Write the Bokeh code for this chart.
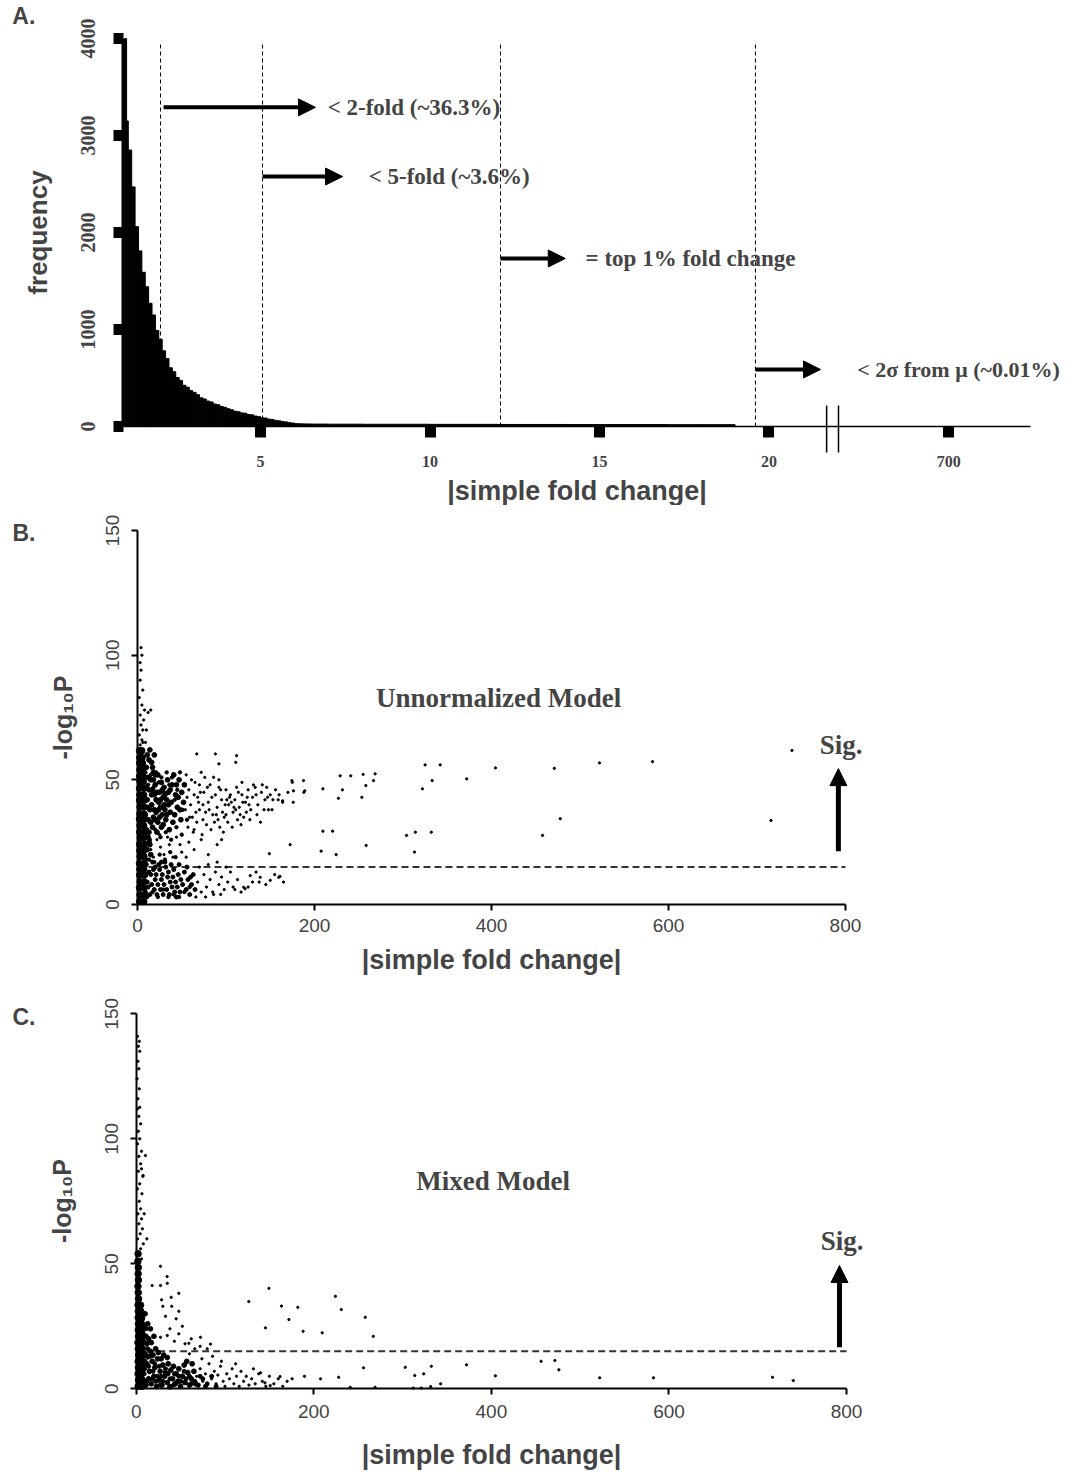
from bokeh.plotting import figure
from bokeh.models import Range1d, FixedTicker, Label, Arrow, NormalHead
from bokeh.layouts import column
from bokeh.embed import file_html
from bokeh.resources import INLINE

# ---------------- Panel A data ----------------
hist_edges = [1.00, 1.05, 1.10, 1.20, 1.30, 1.40, 1.50, 1.60, 1.70, 1.80, 1.90,
              2.00, 2.10, 2.20, 2.30, 2.40, 2.50, 2.60, 2.70, 2.80, 2.90,
              3.00, 3.10, 3.20, 3.30, 3.40, 3.50, 3.60, 3.70, 3.80, 3.90,
              4.00, 4.10, 4.20, 4.30, 4.40, 4.50, 4.60, 4.70, 4.80, 4.90,
              5.00, 5.10, 5.20, 5.30, 5.40, 5.50, 5.60, 5.70, 5.80, 5.90,
              6.00, 6.10, 6.20, 6.30, 6.40, 6.50, 6.60, 6.70, 6.80, 6.90,
              7.00, 8.0, 9.0, 10.0, 11.0, 12.0, 13.0, 14.0, 15.0, 16.0, 17.0,
              18.0, 19.0, 19.6]
hist_counts = [4000, 3150,
               2850, 2470, 2060, 1810, 1590, 1440, 1270, 1150, 990,
               900, 780, 700, 605, 565, 505, 475, 425, 405, 370,
               352, 328, 296, 284, 262, 253, 232, 224, 207, 198,
               183, 172, 158, 152, 140, 137, 123, 120, 108, 102,
               90, 87, 76, 73, 63, 59, 50, 47, 39, 36,
               29, 28, 27, 26, 26, 25, 25, 25, 25,
               25, 24, 23, 23, 22, 22, 21, 21, 20, 20, 20, 19, 19]
a_x_ticks = [5, 10, 15, 20]
a_break_pos = 25.3
a_break_label = "700"
a_y_ticks = [0, 1000, 2000, 3000, 4000]
a_cutoffs = [2.05, 5.06, 12.08, 19.6]
a_arrow_x0 = [2.14, 5.06, 12.08, 19.6]
a_arrow_x1 = [6.62, 7.42, 13.99, 21.52]
a_arrow_y = [3290, 2577, 1732, 588]
a_texts = ["< 2-fold (~36.3%)", "< 5-fold (~3.6%)", "= top 1% fold change",
           "< 2\u03c3 from \u03bc (~0.01%)"]
a_text_x = [6.98, 8.19, 14.59, 22.6]
a_text_size = ["23px", "23px", "23px", "22px"]

# ---------------- Panel B data ----------------
B_col_x = [2.4, 7.1, 2.8, 7.5, 2.2, 6.9, 3.0, 7.3, 2.5, 7.8, 2.7, 7.0, 2.3, 7.4,
           2.9, 7.2, 2.6, 6.8, 2.4, 7.6, 3.1, 7.0, 2.5, 7.3, 2.8, 6.9, 2.2, 7.5,
           2.7, 7.1, 2.9, 6.8, 2.4, 7.4, 2.6, 7.0, 2.3, 7.2, 2.8, 6.6, 2.5, 6.2,
           2.7, 5.8, 2.4, 5.5, 2.6, 5.2, 2.3, 4.8]
B_col_y = [1.2, 1.2, 3.9, 3.9, 6.7, 6.7, 9.1, 9.1, 11.8, 11.8, 14.2, 14.2, 16.4, 16.4,
           19.3, 19.3, 21.6, 21.6, 24.1, 24.1, 26.8, 26.8, 29.0, 29.0, 31.7, 31.7,
           34.3, 34.3, 36.4, 36.4, 39.2, 39.2, 41.8, 41.8, 43.9, 43.9, 46.6, 46.6,
           49.3, 49.3, 51.5, 51.5, 54.1, 54.1, 56.8, 56.8, 58.9, 58.9, 61.7, 61.7]
B_core_x = [10, 12, 14, 11, 13, 15, 17, 18, 16, 19, 20, 22, 23, 21, 24, 25, 23, 27,
            28, 26, 29, 30, 32, 31, 33, 34, 36, 35, 37, 38, 40, 39, 42, 43, 41, 45,
            10, 12, 15, 17, 19, 21, 25, 27, 29, 31, 33, 35, 37, 9, 11, 13, 16, 18,
            20, 22, 24, 26, 28, 30, 44, 46, 48, 47, 50, 52, 49, 53,
            9, 11, 13, 15, 12, 14, 10, 16, 18, 11, 13, 17, 20, 14, 19]
B_core_y = [30, 34, 38, 42, 46, 50, 31, 35, 40, 44, 48, 29, 33, 37, 41, 45, 52, 31,
            36, 39, 43, 47, 34, 38, 42, 50, 30, 45, 37, 41, 33, 48, 36, 44, 52, 39,
            47, 51, 33, 46, 38, 42, 35, 49, 32, 44, 36, 40, 46, 36, 39, 29, 44, 50,
            34, 45, 38, 42, 46, 40, 48, 43, 38, 50, 45, 41, 34, 48,
            18, 22, 25, 20, 27, 24, 55, 57, 53, 60, 58, 55, 52, 62, 60]
B_low_x = [9, 11, 13, 10, 14, 16, 15, 17, 19, 20, 18, 22, 23, 21, 24, 26, 27, 25, 29,
           30, 28, 31, 33, 34, 32, 36, 37, 35, 39, 40, 38, 42, 43, 41, 45, 46, 48,
           49, 47, 51, 53, 55, 57, 59, 61, 63, 65, 12, 20, 27, 44, 56, 60]
B_low_y = [5, 9, 13, 16, 4, 8, 12, 17, 6, 10, 14, 4, 8, 12, 16, 6, 10, 14, 4, 8, 12,
           17, 6, 11, 15, 4, 9, 13, 7, 11, 16, 5, 9, 14, 7, 12, 5, 10, 16, 8, 13, 6,
           10, 4, 8, 12, 6, 7, 15, 17, 3, 15, 11]
B_fill_x = [6, 9, 12, 15, 18, 21, 24, 27, 30, 33, 36, 39, 42, 45, 48, 51,
            8, 14, 20, 26, 32, 38, 44, 50, 56,
            11, 17, 23, 29, 35, 41, 47, 53, 59,
            7, 13, 19, 25, 31, 37, 43]
B_fill_y = [50, 53, 48, 52, 47, 53, 49, 51, 45, 53, 48, 51, 42, 46, 53, 38,
            28, 26, 30, 27, 29, 26, 31, 28, 34,
            3, 5, 3, 6, 3, 4, 3, 5, 7,
            20, 18, 17, 20, 18, 21, 19]
B_lob_x = [55, 58, 60, 62, 65, 68, 70, 72, 75, 78, 80, 82, 85, 88, 90, 92, 95, 98,
           100, 103, 105, 108, 110, 112, 115, 118, 120, 122, 125, 128, 130, 133,
           136, 140, 143, 146, 150, 153, 156, 160, 57, 63, 67, 73, 77, 83, 87, 93,
           97, 102, 107, 113, 117, 123, 127, 135, 139, 148, 100, 92, 70, 64, 86,
           74, 118, 131, 141, 147, 152, 159, 164, 170, 175, 176, 188, 189,
           56, 61, 66, 71, 76, 81, 59, 69, 79, 84, 89, 94, 99, 104, 109, 114,
           119, 124, 54, 64, 74, 96, 106, 116, 126, 134, 144, 101, 111, 91]
B_lob_y = [52, 46, 40, 35, 49, 43, 38, 53, 45, 32, 41, 48, 36, 44, 39, 50, 42, 35,
           46, 40, 44, 37, 42, 47, 39, 44, 35, 41, 46, 38, 43, 47, 40, 45, 38, 47,
           44, 42, 46, 44, 31, 29, 33, 28, 37, 30, 33, 31, 29, 33, 31, 34, 32, 37,
           34, 36, 33, 38, 36, 47, 48, 44, 51, 40, 49, 48, 48, 43, 38, 42, 41, 45,
           49, 41, 45, 45.6,
           43, 50, 37, 45, 51, 38, 35, 41, 47, 43, 36, 46, 40, 43, 39, 45,
           41, 43, 38, 30, 34, 37, 41, 36, 40, 44, 42, 42, 38, 34]
B_gap_x = [15, 22, 30, 36, 44, 50, 58, 18, 26, 40, 64, 72, 80, 90, 48, 34, 12, 55, 95, 25]
B_gap_y = [22, 26, 20, 24, 27, 21, 25, 19, 23, 19, 22, 26, 20, 24, 24, 27, 25, 19, 26, 28]
B_pts_x = [68, 72, 75, 78, 82, 85, 88, 92, 95, 98, 102, 105, 108, 113, 117, 70, 80,
           90, 100, 66, 77, 86, 94, 130, 134, 145, 125, 155, 165,
           67, 88, 112, 111, 92, 174.4, 187.6, 176.3, 164, 209.5, 229, 241, 255,
           268.5, 266.7, 258, 253.5, 227, 231.6, 325, 342, 333, 322, 372, 404.5,
           471, 522, 582, 739.5, 715.8, 477.7, 457.7, 304, 314, 332, 313, 209.5,
           220.5, 258.4, 172.5, 207.5, 224.5, 149, 161, 150, 137.5, 121.5, 110,
           159.6, 138.7, 127.4, 120,
           3, 5, 2, 6, 4, 7, 3, 8, 5, 2, 6, 3, 4, 3, 5, 4, 12, 15, 10, 9, 6]
B_pts_y = [9, 5, 12, 7, 10, 5, 13, 8, 11, 6, 9, 13, 7, 10, 5, 15, 16, 17, 15, 3, 3,
           4, 4, 9, 13, 8, 7, 12, 9,
           60.4, 60.4, 59.7, 57, 56.4, 49.7, 49.7, 45.6, 41.6, 46.4, 51.6, 51.6,
           52.2, 52.4, 49.7, 47.7, 43, 42.6, 46, 56, 56, 49.7, 46.4, 50.4, 54.8,
           54.6, 56.8, 57.3, 61.8, 33.7, 34.4, 27.7, 27.7, 29, 29, 21, 29.4, 29.4,
           23.7, 24, 21.4, 20, 20.4, 11.3, 9.7, 9, 6.3, 6, 10.9, 10.9, 11.6, 6.9,
           64, 66, 68, 70, 72, 74, 76, 78, 80, 83, 86, 90, 94, 97, 100, 103, 77,
           78, 70, 65, 65]

# ---------------- Panel C data ----------------
C_col_x = [2.3, 6.5, 2.6, 6.8, 2.1, 6.3, 2.5, 6.9, 2.2, 6.4, 2.7, 6.6, 2.4, 7.0,
           2.0, 6.2, 2.6, 6.7, 2.3, 6.1, 2.5, 5.9, 2.2, 5.6, 2.4, 5.2, 2.1, 4.9,
           2.6, 2.3, 2.0, 2.5, 2.2, 2.4, 1.9, 2.1]
C_col_y = [1, 1, 3.5, 3.5, 6, 6, 8.5, 8.5, 11, 11, 13.5, 13.5, 16, 16, 18.5, 18.5,
           21, 21, 23.5, 23.5, 26, 26, 28.5, 28.5, 31, 31, 33.5, 33.5, 36, 38.5, 41,
           43.5, 46, 48.5, 51, 54]
C_core_x = [5, 8, 11, 14, 17, 20, 23, 26, 29, 32, 35, 38, 41, 44,
            6, 9, 12, 15, 18, 21, 24, 27, 30, 33, 36, 39, 42, 45,
            7, 10, 13, 16, 19, 22, 25, 28, 31, 35,
            5, 8, 11, 6, 9, 12, 14, 7, 10, 17, 20, 13, 16,
            47, 50, 52, 55, 58, 48, 54, 60, 62, 65, 57, 63, 67]
C_core_y = [1, 3, 1.5, 4, 2, 5, 1, 3.5, 1.5, 5, 2.5, 0.8, 4, 2,
            6, 8, 10, 7, 11, 8.5, 12, 7, 9.5, 6.5, 10, 7.5, 9, 6,
            12.5, 14, 12.8, 15, 13.5, 16, 14.5, 12, 13.5, 12.5,
            17, 19, 21, 23, 25, 18, 20, 28, 30, 18.5, 21, 26, 24,
            3, 1, 5, 2.5, 6.5, 8, 9.5, 1.5, 4, 7, 11, 10, 2]
C_fill_x = [3, 9, 14, 19, 24, 4, 10, 16, 22, 28, 33, 5, 12, 18, 26, 38, 43, 50, 56,
            62, 70, 75, 80, 85, 90, 8, 15, 21, 27, 13, 7, 11, 3, 30, 36, 42, 48, 54,
            60, 66, 72, 78]
C_fill_y = [8, 6, 9, 7, 5, 13, 11, 13, 3, 5, 8, 16, 3, 4, 9, 4, 6, 3, 4, 2, 1.5, 4,
            2, 5, 1, 22, 7, 10, 1.5, 16, 11, 24, 19, 3, 6, 1.5, 5, 7, 5, 3, 5, 1]
C_pts_x = [68, 70, 72, 75, 78, 80, 82, 85, 88, 90, 92, 95, 98, 100, 102, 105, 108,
           110, 113, 116, 118, 121, 124, 127, 130, 134, 138, 142, 146, 150, 155,
           160, 165, 170, 74, 86, 96, 112, 132, 60, 66, 72, 80, 55, 62, 48, 52, 45,
           40, 43, 38, 33, 30,
           27.4, 34.9, 35, 27.4, 18, 48, 39.4, 126.8, 149.4, 163.6, 182, 172, 224.4,
           231, 258, 145.6, 188, 209.5, 267, 48, 28.6, 35, 27.4, 59.3, 72.4, 83.7,
           256, 303, 313.7, 323.8, 332.4, 312, 321, 331.6, 342.8, 372, 404.5, 456,
           471.5, 476, 522, 582.5, 716.6, 740, 241, 269, 228, 207.6, 189.5, 175.6,
           151, 162, 140, 145,
           3, 6, 2, 5, 8, 1.5, 4.5, 7, 3, 6, 2, 5, 3.5, 6.5, 1.5, 4, 7.5, 2.5, 5, 3,
           6, 1.5, 4, 10.4, 2.5, 5, 3, 1.5, 4, 2, 3.5, 1, 3, 2, 4, 2.5, 3.5, 1.5, 12,
           9, 6, 7.8]
C_pts_y = [5, 1, 8, 3, 6, 1.5, 10, 4, 7, 2, 5.5, 9, 3, 1, 6, 4, 8, 2, 5, 1, 7, 3, 5,
           1.5, 4, 2, 6, 3, 1, 5, 2, 4, 1, 3, 12, 13, 11, 10, 8, 14, 16, 17, 16, 18,
           20, 22, 25, 28, 33, 19, 24, 29, 33,
           49, 44.9, 42.2, 41.3, 41.3, 38.2, 36.6, 34.9, 40.2, 33.1, 32.6, 27.7, 37,
           31.7, 28.6, 24.4, 23, 22.4, 21, 31, 35.6, 21.3, 20.6, 18.2, 20.6, 17.9,
           8.4, 8.6, 5.3, 6.0, 9.0, 0.3, 0.3, 0.9, 2, 9.6, 5.2, 11, 11.3, 7.6, 4.4,
           4.4, 4.6, 3.3, 0.6, 0.6, 4.6, 4.0, 5.0, 4.0, 1.3, 4.9, 6.4, 2.4,
           50, 52, 54, 56, 58, 60, 62, 64, 66, 68, 70, 72, 75, 78, 80, 82, 85, 87,
           90, 93, 95, 98, 100, 93.3, 103, 106, 109, 112, 112.6, 116, 120, 124, 128,
           131, 135, 137, 139, 141, 60, 70, 88, 85.3]

sig_threshold = 15
b_x_ticks = [0, 200, 400, 600, 800]
b_y_ticks = [0, 50, 100, 150]

SERIF = "Liberation Serif"
SANS = "Liberation Sans"
W = 1064


def base_fig(height, xr, yr):
    p = figure(width=W, height=height, x_range=Range1d(*xr), y_range=Range1d(*yr),
               output_backend="svg", toolbar_location=None,
               min_border_left=0, min_border_right=0, min_border_top=0,
               min_border_bottom=0)
    p.xgrid.visible = False
    p.ygrid.visible = False
    p.outline_line_color = None
    p.background_fill_color = "white"
    p.border_fill_color = "white"
    return p


# ======================= Panel A =======================
pA = base_fig(505, (-2.670, 28.717), (-814.4, 4391.8))
pA.quad(left=hist_edges[:-1], right=hist_edges[1:], bottom=0, top=hist_counts,
        fill_color="black", line_color="black", line_width=1)
pA.segment(x0=a_cutoffs, y0=0, x1=a_cutoffs, y1=3970, line_color="black",
           line_width=1, line_dash="4 3")

xa = pA.xaxis[0]
xa.fixed_location = 0
xa.ticker = FixedTicker(ticks=a_x_ticks + [a_break_pos])
xa.major_label_overrides = {a_break_pos: a_break_label}
xa.bounds = (0.95, 27.7)
xa.axis_line_width = 1.5
xa.major_tick_out = 11
xa.major_tick_in = 0
xa.major_tick_line_width = 11
xa.minor_tick_line_color = None
xa.major_label_text_font = SERIF
xa.major_label_text_font_style = "bold"
xa.major_label_text_font_size = "16px"
xa.major_label_standoff = 18
xa.axis_label = "|simple fold change|"
xa.axis_label_text_font = SANS
xa.axis_label_text_font_style = "bold"
xa.axis_label_text_font_size = "27px"
xa.axis_label_standoff = 6

ya = pA.yaxis[0]
ya.fixed_location = 0.95
ya.ticker = FixedTicker(ticks=a_y_ticks)
ya.bounds = (0, 4000)
ya.axis_line_width = 4
ya.major_tick_out = 10
ya.major_tick_in = 0
ya.major_tick_line_width = 11
ya.minor_tick_line_color = None
ya.major_label_orientation = "vertical"
ya.major_label_text_font = SERIF
ya.major_label_text_font_style = "bold"
ya.major_label_text_font_size = "20px"
ya.major_label_standoff = 18
ya.axis_label = "frequency"
ya.axis_label_text_font = SANS
ya.axis_label_text_font_style = "bold"
ya.axis_label_text_font_size = "26px"
ya.axis_label_standoff = 26

for x0, x1, yv in zip(a_arrow_x0, a_arrow_x1, a_arrow_y):
    pA.add_layout(Arrow(end=NormalHead(size=17, fill_color="black", line_color="black"),
                        x_start=x0, y_start=yv, x_end=x1, y_end=yv,
                        line_width=4, line_color="black"))
for tx, ty, tt, ts in zip(a_text_x, a_arrow_y, a_texts, a_text_size):
    pA.add_layout(Label(x=tx, y=ty, text=tt, text_font=SERIF, text_font_style="bold",
                        text_font_size=ts, text_baseline="middle", text_align="left"))
# axis break marks
for bx in [21.7, 22.05]:
    pA.add_layout(Arrow(start=None, end=None, x_start=bx, y_start=216, x_end=bx,
                        y_end=-268, line_width=1.5, line_color="black"))
pA.add_layout(Label(x=-2.32, y=4371, text="A.", text_font=SANS, text_font_style="bold",
                    text_font_size="23px", text_baseline="top", text_align="left"))


# ======================= Panels B & C =======================
def scatter_panel(height, xr, yr, px_per_x, tick_standoff, label_standoff, panel,
                  panel_y, model, model_x, sig_y, arr, sets):
    p = base_fig(height, xr, yr)
    p.segment(x0=[0], y0=[sig_threshold], x1=[800], y1=[sig_threshold],
              line_color="#333333", line_width=2, line_dash="7 4")
    for sx, sy, ss in sets:
        p.scatter(sx, sy, size=ss, marker="circle", color="black")

    xa = p.xaxis[0]
    xa.fixed_location = 0
    xa.ticker = FixedTicker(ticks=b_x_ticks)
    xa.bounds = (0, 800)
    xa.axis_line_width = 2
    xa.major_tick_out = 6
    xa.major_tick_in = 0
    xa.major_tick_line_width = 2
    xa.minor_tick_line_color = None
    xa.major_label_text_font = SANS
    xa.major_label_text_font_size = "19px"
    xa.major_label_standoff = tick_standoff
    xa.axis_label = "|simple fold change|"
    xa.axis_label_text_font = SANS
    xa.axis_label_text_font_style = "bold"
    xa.axis_label_text_font_size = "27px"
    xa.axis_label_standoff = label_standoff

    ya = p.yaxis[0]
    ya.fixed_location = 0
    ya.ticker = FixedTicker(ticks=b_y_ticks)
    ya.bounds = (0, 150)
    ya.axis_line_width = 2
    ya.major_tick_out = 6
    ya.major_tick_in = 0
    ya.major_tick_line_width = 2
    ya.minor_tick_line_color = None
    ya.major_label_orientation = "vertical"
    ya.major_label_text_font = SANS
    ya.major_label_text_font_size = "19px"
    ya.major_label_standoff = 12
    ya.axis_label = "-log\u2081\u2080P"
    ya.axis_label_text_font = SANS
    ya.axis_label_text_font_style = "bold"
    ya.axis_label_text_font_size = "25px"
    ya.axis_label_standoff = 27

    p.add_layout(Label(x=model_x, y=83, text=model, text_font=SERIF,
                       text_font_style="bold", text_font_size="27px",
                       text_baseline="middle", text_align="center"))
    p.add_layout(Label(x=795, y=sig_y, text="Sig.", text_font=SERIF,
                       text_font_style="bold", text_font_size="27px",
                       text_baseline="middle", text_align="center"))
    p.add_layout(Arrow(end=NormalHead(size=17, fill_color="black", line_color="black"),
                       x_start=792, y_start=arr[0], x_end=792, y_end=arr[1],
                       line_width=5, line_color="black"))
    p.add_layout(Label(x=xr[0] + 12 / px_per_x, y=panel_y, text=panel,
                       text_font=SANS, text_font_style="bold", text_font_size="23px",
                       text_baseline="middle", text_align="left"))
    return p


pB = scatter_panel(477, (-154.8, 1047.5), (-31.29, 160.05), 0.885, 9, 9, "B.", 149.2,
                   "Unnormalized Model", 408, 63.8, (21.4, 54.5),
                   [(B_col_x, B_col_y, 6.5), (B_core_x, B_core_y, 4.8),
                    (B_low_x, B_low_y, 4.0), (B_fill_x, B_fill_y, 3.4),
                    (B_lob_x, B_lob_y, 2.3), (B_gap_x, B_gap_y, 2.3),
                    (B_pts_x, B_pts_y, 2.3)])
pC = scatter_panel(488, (-152.8, 1045.4), (-32.68, 162.52), 0.888, 10, 19, "C.", 148.9,
                   "Mixed Model", 402, 59, (16.6, 49.3),
                   [(C_col_x, C_col_y, 6.5), (C_core_x, C_core_y, 4.8),
                    (C_fill_x, C_fill_y, 4.0), (C_pts_x, C_pts_y, 2.3)])

layout = column(pA, pB, pC, spacing=0)
open("out.html", "w").write(file_html(layout, INLINE))
